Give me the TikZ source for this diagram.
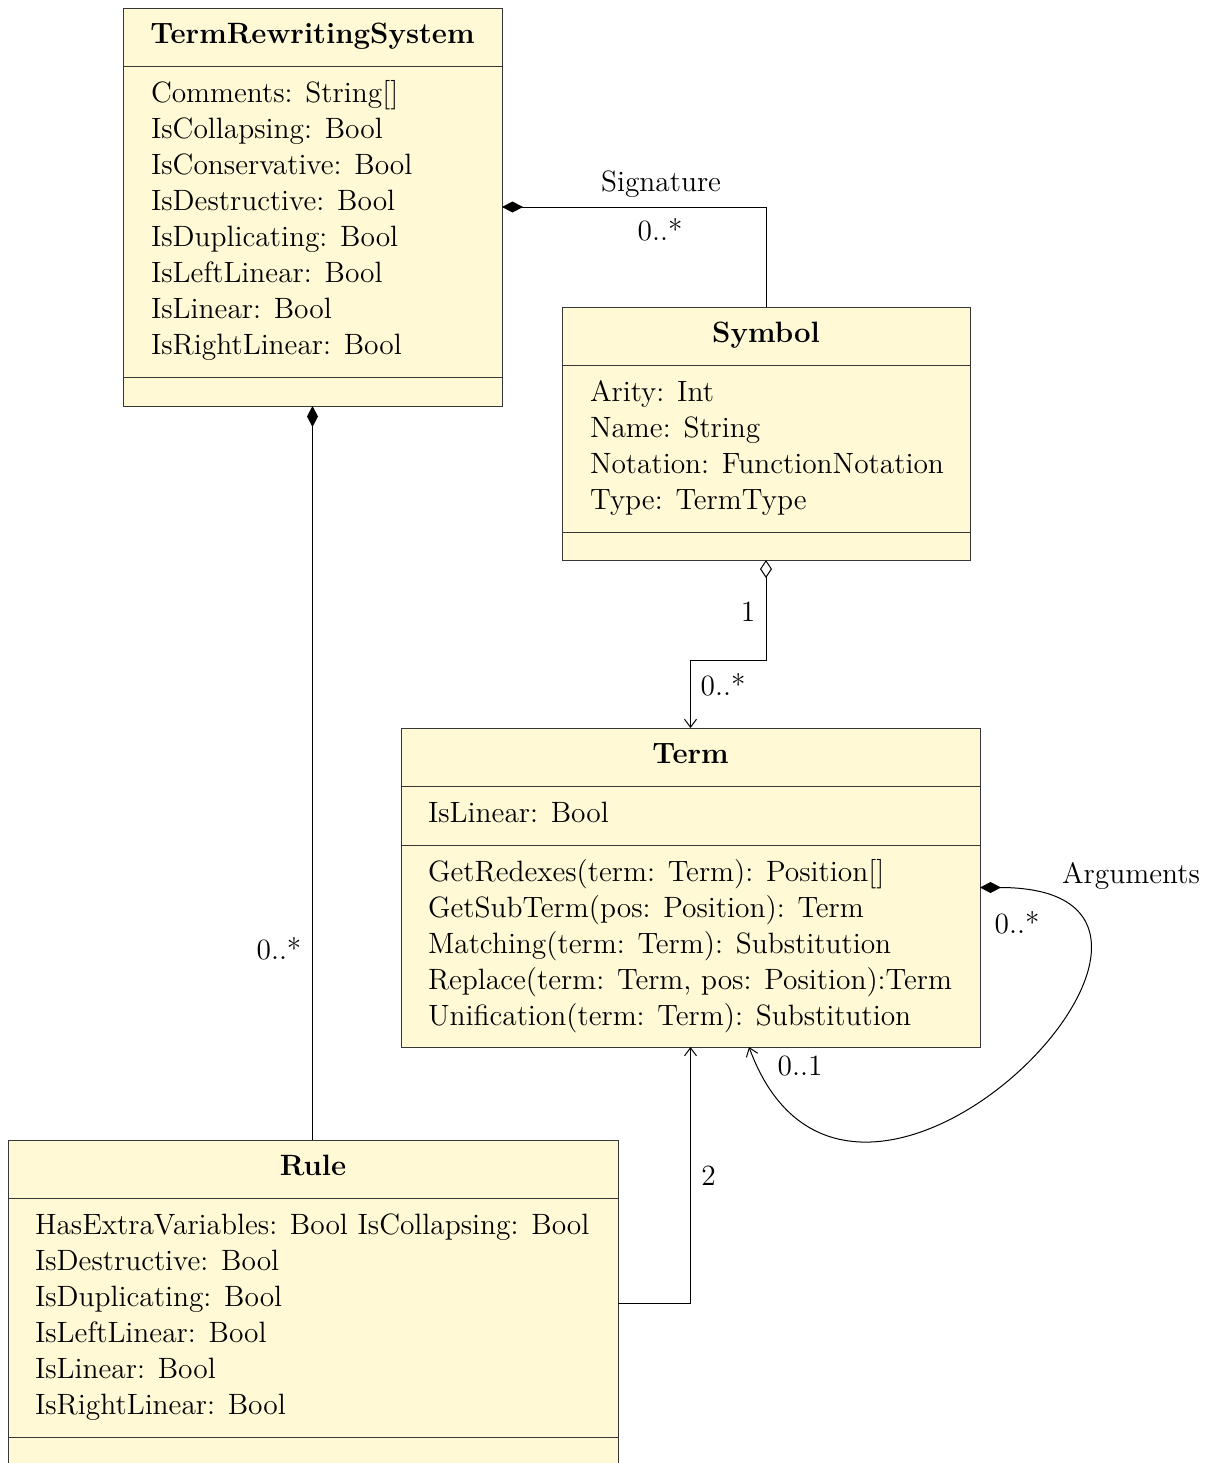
\documentclass[tikz,border=0pt]{standalone}
\usetikzlibrary{arrows.meta,calc}
\definecolor{classfill}{RGB}{255,249,214}
\definecolor{classedge}{RGB}{55,55,55}
\tikzset{
  umltext/.style={font=\fontsize{14.7}{18}\selectfont, inner sep=0pt, outer sep=0pt},
  classbox/.style={draw=classedge, fill=classfill, line width=0.5pt, anchor=north west,
                   inner sep=0pt, outer sep=0pt},
  classrule/.style={draw=classedge, line width=0.5pt},
  classtitle/.style={umltext, font=\fontsize{14.7}{18}\selectfont\bfseries, anchor=base},
  member/.style={umltext, anchor=base west},
  multiplicity/.style={umltext, anchor=base},
  assoc/.style={draw=black, line width=0.5pt},
  composition/.style={assoc, {Diamond[length=10.5pt,width=5.5pt]}-},
  aggregation/.style={assoc, {Diamond[open,length=9pt,width=6pt]}-{Straight Barb[length=4pt,width=6pt]}},
  navigable/.style={assoc, -{Straight Barb[length=4pt,width=6pt]}},
  selfref/.style={assoc, {Diamond[length=10.5pt,width=5.5pt]}-{Straight Barb[length=4pt,width=6pt]}}
}
\begin{document}
\begin{tikzpicture}[x=0.5pt,y=-0.5pt]
\fill[white] (0,0) rectangle (1217,1463);
\useasboundingbox (0,0) rectangle (1217,1463);

% --- class boxes ---------------------------------------------------------
\node[classbox, minimum width=189.5pt, minimum height=199pt]   (trs)  at (123,8)    {};
\node[classbox, minimum width=204pt,   minimum height=126.5pt] (sym)  at (562,307)  {};
\node[classbox, minimum width=289.5pt, minimum height=159.5pt] (term) at (401,728)  {};
\node[classbox, minimum width=305pt,   minimum height=163pt]   (rule) at (8,1140)   {};

% compartment separators
\foreach \b/\a/\c in {trs/58/369, sym/58/225, term/58/117, rule/58/297} {
  \draw[classrule] ($(\b.north west)+(0,\a)$) -- ($(\b.north east)+(0,\a)$);
  \draw[classrule] ($(\b.north west)+(0,\c)$) -- ($(\b.north east)+(0,\c)$);
}

% titles
\node[classtitle] (trs-title)  at ($(trs.north)+(0,35)$)  {TermRewritingSystem};
\node[classtitle] (sym-title)  at ($(sym.north)+(0,35)$)  {Symbol};
\node[classtitle] (term-title) at ($(term.north)+(0,35)$) {Term};
\node[classtitle] (rule-title) at ($(rule.north)+(0,35)$) {Rule};

% members
\foreach \m [count=\i] in {Comments: String[], IsCollapsing: Bool, IsConservative: Bool,
    IsDestructive: Bool, IsDuplicating: Bool, IsLeftLinear: Bool, IsLinear: Bool,
    IsRightLinear: Bool}
  \node[member] (trs-m\i) at ($(trs.north west)+(28,{58+36*\i})$) {\m};

\foreach \m [count=\i] in {Arity: Int, Name: String, Notation: FunctionNotation, Type: TermType}
  \node[member] (sym-m\i) at ($(sym.north west)+(28,{58+36*\i})$) {\m};

\node[member] (term-m1) at ($(term.north west)+(27,94)$) {IsLinear: Bool};
\foreach \m [count=\i] in {{GetRedexes(term: Term): Position[]},
    {GetSubTerm(pos: Position): Term},
    {Matching(term: Term): Substitution},
    {Replace(term: Term, pos: Position):Term},
    {Unification(term: Term): Substitution}}
  \node[member] (term-op\i) at ($(term.north west)+(27,{117+36*\i})$) {\m};

\foreach \m [count=\i] in {HasExtraVariables: Bool IsCollapsing: Bool, IsDestructive: Bool,
    IsDuplicating: Bool, IsLeftLinear: Bool, IsLinear: Bool, IsRightLinear: Bool}
  \node[member] (rule-m\i) at ($(rule.north west)+(27,{58+36*\i})$) {\m};

% --- relations -----------------------------------------------------------
\draw[composition] (trs.east) -| (sym.north);
\node[multiplicity] (sig-name) at (661,191) {Signature};
\node[multiplicity] (sig-mult) at (660,240) {0..*};

\draw[composition] (trs.south) -- (trs.south |- rule.north);
\node[multiplicity] (rules-mult) at (279,959) {0..*};

\draw[aggregation] (sym.south) -- ++(0,100) -| (term.north);
\node[multiplicity] (sym-one)   at (748,621) {1};
\node[multiplicity] (sym-many)  at (723,695) {0..*};

\draw[navigable] (rule.east) -| (term.south);
\node[multiplicity] (rule-two) at (708.5,1185) {2};

\coordinate (term-in) at ($(term.south)+(58.5,0)$);
\draw[selfref] (term.east)
  .. controls ($(term.east)+(295,0)$) and ($(term.south)+(162,283)$) .. (term-in);
\node[multiplicity] (arg-name) at (1131,883)  {Arguments};
\node[multiplicity] (arg-many) at (1017,933)  {0..*};
\node[multiplicity] (arg-opt)  at (800,1075)  {0..1};
\end{tikzpicture}
\end{document}
